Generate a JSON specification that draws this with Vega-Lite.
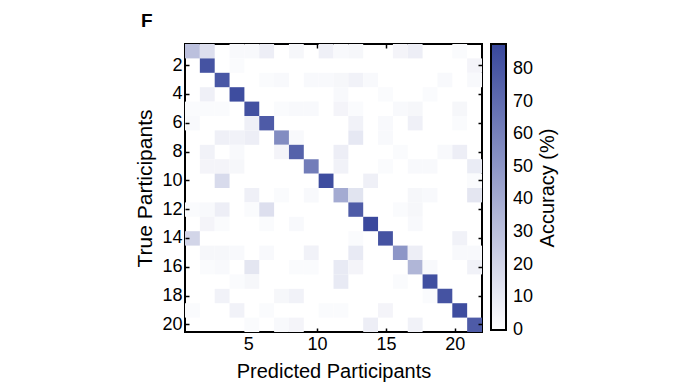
{
  "$schema": "https://vega.github.io/schema/vega-lite/v6.json",
  "width": 297,
  "height": 288,
  "autosize": "none",
  "padding": {"left": 185, "top": 44, "right": 207, "bottom": 56},
  "background": "white",
  "title": {"text": "F", "anchor": "start", "frame": "group", "fontSize": 19, "fontWeight": "bold", "font": "Liberation Sans", "color": "black", "dx": -44, "offset": -3, "baseline": "alphabetic"},
  "data": {"values": [
    {"t":1,"p":1,"v":30},{"t":1,"p":2,"v":15},{"t":1,"p":4,"v":3},{"t":1,"p":5,"v":3},{"t":1,"p":6,"v":8},{"t":1,"p":8,"v":4},{"t":1,"p":10,"v":7},{"t":1,"p":11,"v":3},{"t":1,"p":12,"v":4},{"t":1,"p":15,"v":5},{"t":1,"p":16,"v":8},{"t":1,"p":19,"v":2},
    {"t":2,"p":2,"v":82},{"t":2,"p":4,"v":2},{"t":2,"p":20,"v":5},
    {"t":3,"p":3,"v":80},{"t":3,"p":6,"v":2},{"t":3,"p":7,"v":3},{"t":3,"p":9,"v":3},{"t":3,"p":10,"v":3},{"t":3,"p":11,"v":4},{"t":3,"p":12,"v":6},{"t":3,"p":13,"v":3},{"t":3,"p":18,"v":3},{"t":3,"p":20,"v":3},
    {"t":4,"p":2,"v":7},{"t":4,"p":4,"v":85},{"t":4,"p":11,"v":3},{"t":4,"p":14,"v":2},{"t":4,"p":17,"v":2},
    {"t":5,"p":1,"v":2},{"t":5,"p":2,"v":2},{"t":5,"p":3,"v":2},{"t":5,"p":5,"v":83},{"t":5,"p":7,"v":2},{"t":5,"p":8,"v":3},{"t":5,"p":9,"v":3},{"t":5,"p":11,"v":5},{"t":5,"p":12,"v":2},{"t":5,"p":15,"v":3},{"t":5,"p":16,"v":4},{"t":5,"p":19,"v":4},
    {"t":6,"p":1,"v":3},{"t":6,"p":5,"v":7},{"t":6,"p":6,"v":78},{"t":6,"p":12,"v":6},{"t":6,"p":14,"v":3},{"t":6,"p":16,"v":7},{"t":6,"p":19,"v":2},
    {"t":7,"p":3,"v":7},{"t":7,"p":4,"v":6},{"t":7,"p":5,"v":8},{"t":7,"p":7,"v":55},{"t":7,"p":8,"v":3},{"t":7,"p":12,"v":11},{"t":7,"p":14,"v":3},
    {"t":8,"p":2,"v":6},{"t":8,"p":4,"v":3},{"t":8,"p":7,"v":5},{"t":8,"p":8,"v":75},{"t":8,"p":11,"v":8},{"t":8,"p":15,"v":2},{"t":8,"p":18,"v":3},{"t":8,"p":19,"v":8},
    {"t":9,"p":2,"v":5},{"t":9,"p":3,"v":5},{"t":9,"p":4,"v":4},{"t":9,"p":9,"v":62},{"t":9,"p":11,"v":6},{"t":9,"p":14,"v":2},{"t":9,"p":16,"v":3},{"t":9,"p":17,"v":3},{"t":9,"p":20,"v":9},
    {"t":10,"p":3,"v":17},{"t":10,"p":10,"v":85},{"t":10,"p":13,"v":7},{"t":10,"p":20,"v":2},
    {"t":11,"p":5,"v":7},{"t":11,"p":7,"v":2},{"t":11,"p":9,"v":3},{"t":11,"p":11,"v":40},{"t":11,"p":12,"v":13},{"t":11,"p":16,"v":4},{"t":11,"p":17,"v":3},{"t":11,"p":20,"v":12},
    {"t":12,"p":1,"v":2},{"t":12,"p":2,"v":3},{"t":12,"p":3,"v":8},{"t":12,"p":5,"v":2},{"t":12,"p":6,"v":15},{"t":12,"p":12,"v":78},{"t":12,"p":15,"v":2},{"t":12,"p":16,"v":4},
    {"t":13,"p":2,"v":5},{"t":13,"p":3,"v":2},{"t":13,"p":6,"v":2},{"t":13,"p":8,"v":3},{"t":13,"p":13,"v":87},{"t":13,"p":16,"v":3},
    {"t":14,"p":1,"v":20},{"t":14,"p":12,"v":2},{"t":14,"p":14,"v":82},{"t":14,"p":19,"v":6},
    {"t":15,"p":2,"v":4},{"t":15,"p":3,"v":4},{"t":15,"p":4,"v":3},{"t":15,"p":6,"v":3},{"t":15,"p":9,"v":6},{"t":15,"p":12,"v":10},{"t":15,"p":15,"v":50},{"t":15,"p":16,"v":8},{"t":15,"p":19,"v":3},{"t":15,"p":20,"v":3},
    {"t":16,"p":2,"v":2},{"t":16,"p":3,"v":3},{"t":16,"p":5,"v":12},{"t":16,"p":8,"v":2},{"t":16,"p":9,"v":2},{"t":16,"p":11,"v":10},{"t":16,"p":12,"v":5},{"t":16,"p":16,"v":35},{"t":16,"p":17,"v":3},{"t":16,"p":20,"v":6},
    {"t":17,"p":4,"v":2},{"t":17,"p":5,"v":4},{"t":17,"p":11,"v":10},{"t":17,"p":15,"v":2},{"t":17,"p":17,"v":84},
    {"t":18,"p":3,"v":6},{"t":18,"p":7,"v":4},{"t":18,"p":8,"v":6},{"t":18,"p":17,"v":2},{"t":18,"p":18,"v":82},
    {"t":19,"p":1,"v":2},{"t":19,"p":4,"v":6},{"t":19,"p":6,"v":2},{"t":19,"p":10,"v":2},{"t":19,"p":11,"v":2},{"t":19,"p":14,"v":5},{"t":19,"p":19,"v":85},
    {"t":20,"p":5,"v":2},{"t":20,"p":7,"v":3},{"t":20,"p":8,"v":5},{"t":20,"p":13,"v":8},{"t":20,"p":16,"v":6},{"t":20,"p":20,"v":78}
  ]},
  "layer": [
    {
      "mark": {"type": "rect"},
      "encoding": {
        "x": {"field": "p", "type": "ordinal", "scale": {"domain": [1,2,3,4,5,6,7,8,9,10,11,12,13,14,15,16,17,18,19,20], "paddingInner": 0, "paddingOuter": 0}, "axis": null},
        "y": {"field": "t", "type": "ordinal", "scale": {"domain": [1,2,3,4,5,6,7,8,9,10,11,12,13,14,15,16,17,18,19,20], "paddingInner": 0, "paddingOuter": 0},
              "axis": {"orient": "left", "values": [2,4,6,8,10,12,14,16,18,20], "title": "True Participants", "titleFontSize": 21, "labelAngle": 0, "labelPadding": 7, "titlePadding": 6}},
        "color": {"field": "v", "type": "quantitative",
                  "scale": {"domain": [-0.05, 87.7], "range": ["#ffffff", "#38479c"], "interpolate": "rgb", "nice": false, "zero": false},
                  "legend": {"title": "Accuracy (%)", "values": [0,10,20,30,40,50,60,70,80], "direction": "vertical", "gradientLength": 286, "gradientThickness": 15, "gradientStrokeColor": "black", "gradientStrokeWidth": 2, "labelFontSize": 18, "labelFont": "Liberation Sans", "labelColor": "black", "labelOffset": 7, "labelOverlap": false, "titleFontSize": 20, "titleFont": "Liberation Sans", "titleFontWeight": "normal", "titleColor": "black", "titleOrient": "right", "titleAnchor": "middle", "titlePadding": 25, "offset": 8, "padding": 0,
                             "encode": {"title": {"update": {"angle": {"value": 270}}}}}}
      }
    },
    {
      "mark": {"type": "point", "opacity": 0},
      "encoding": {
        "x": {"field": "p", "type": "quantitative", "scale": {"domain": [0.40, 21.98], "nice": false, "zero": false},
              "axis": {"orient": "bottom", "values": [5,10,15,20], "title": "Predicted Participants", "labelPadding": 7, "titlePadding": 8}}
      }
    },
    {
      "mark": {"type": "point", "opacity": 0},
      "encoding": {
        "x": {"field": "p", "type": "quantitative", "scale": {"domain": [0.40, 21.98], "nice": false, "zero": false},
              "axis": {"orient": "top", "values": [5,10,15,20], "labels": false, "title": null}}
      }
    },
    {
      "mark": {"type": "rect", "opacity": 0},
      "encoding": {
        "y": {"field": "t", "type": "ordinal", "scale": {"domain": [1,2,3,4,5,6,7,8,9,10,11,12,13,14,15,16,17,18,19,20], "paddingInner": 0, "paddingOuter": 0},
              "axis": {"orient": "right", "values": [2,4,6,8,10,12,14,16,18,20], "labels": false, "title": null}}
      }
    }
  ],
  "resolve": {"scale": {"x": "independent"}, "axis": {"x": "independent", "y": "independent"}},
  "config": {
    "view": {"stroke": "black", "strokeWidth": 2},
    "font": "Liberation Sans",
    "legend": {"titleAngle": 270},
    "axis": {"labelFont": "Liberation Sans", "titleFont": "Liberation Sans", "labelColor": "black", "titleColor": "black", "titleFontWeight": "normal", "domain": false, "grid": false, "tickColor": "black", "tickWidth": 1.5, "tickSize": -4, "labelFontSize": 18, "titleFontSize": 20}
  }
}
